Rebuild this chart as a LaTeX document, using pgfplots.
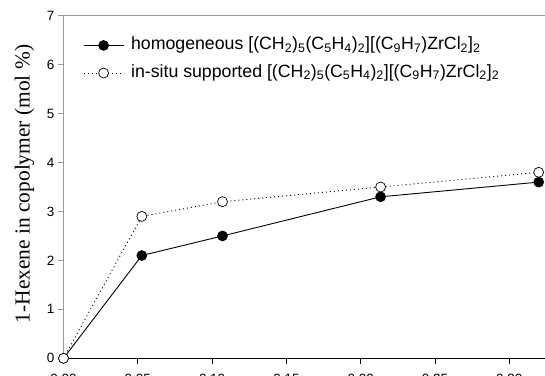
\documentclass[border=0pt]{standalone}
\usepackage{fontspec}
\setmainfont{Liberation Sans}
\newfontfamily\seriffont{Liberation Serif}
\usepackage{pgfplots}
\pgfplotsset{compat=1.18}
\begin{document}
\begin{tikzpicture}
\begin{axis}[
  x=1486bp, y=48.94bp,
  xmin=0, xmax=0.34, ymin=0, ymax=7,
  clip=false,
  axis x line*=bottom, axis y line*=left,
  x axis line style={black, line width=0.8bp},
  y axis line style={black!40, line width=0.8bp},
  xtick={0,0.05,0.10,0.15,0.20,0.25,0.30},
  xticklabels={0.00,0.05,0.10,0.15,0.20,0.25,0.30},
  ytick={0,1,2,3,4,5,6,7},
  yticklabels={0,1,2,3,4,5,6,7},
  tick align=outside,
  major tick length=5.5bp,
  x tick style={black, line width=0.7bp},
  y tick style={black!40, line width=0.7bp},
  tick label style={font=\fontsize{13.5}{15}\selectfont},
  xticklabel style={yshift=-6.5bp},
  ylabel={\seriffont\fontsize{21.5}{24}\selectfont 1-Hexene in copolymer (mol \%)},
  ylabel style={at={(axis cs:-0.0262,3.56)}, anchor=center},
  legend style={draw=none, fill=none, at={(axis cs:0.0131,6.56)}, anchor=north west,
    font=\fontsize{17.8}{20}\selectfont, inner sep=0pt,
    nodes={inner sep=0pt, text height=12bp, text depth=4bp},
    row sep=11.6bp, column sep=0pt,
    /tikz/every odd column/.append style={column sep=7bp}},
  legend cell align=left,
  legend image code/.code={\draw[mark repeat=2,mark phase=2] plot coordinates {(0bp,0bp) (20bp,0bp) (40bp,0bp)};},
]
\coordinate (O) at (axis cs:0,0);
\draw[black!40, line width=0.8bp] (rel axis cs:0,1) -- (rel axis cs:1,1);
\addplot[black, line width=0.9bp, mark=*, mark size=5bp, mark options={solid, fill=black, line width=0.6bp}]
  coordinates {(0,0) (0.0527,2.1) (0.107,2.5) (0.2134,3.3) (0.3198,3.6)};
\addlegendentry{homogeneous [(CH\textsubscript{2})\textsubscript{5}(C\textsubscript{5}H\textsubscript{4})\textsubscript{2}][(C\textsubscript{9}H\textsubscript{7})ZrCl\textsubscript{2}]\textsubscript{2}}
\addplot[black, line width=0.9bp, dash pattern=on 1bp off 3bp, mark=*, mark size=5bp, mark options={solid, draw=black, fill=white, line width=0.7bp}]
  coordinates {(0,0) (0.0527,2.9) (0.107,3.2) (0.2134,3.5) (0.3198,3.8)};
\addlegendentry{in-situ supported [(CH\textsubscript{2})\textsubscript{5}(C\textsubscript{5}H\textsubscript{4})\textsubscript{2}][(C\textsubscript{9}H\textsubscript{7})ZrCl\textsubscript{2}]\textsubscript{2}}
\end{axis}
\pgfresetboundingbox
\path[use as bounding box] ([xshift=-63.5bp,yshift=-17.7bp]O) rectangle ([xshift=481.5bp,yshift=358.3bp]O);
\end{tikzpicture}
\end{document}
